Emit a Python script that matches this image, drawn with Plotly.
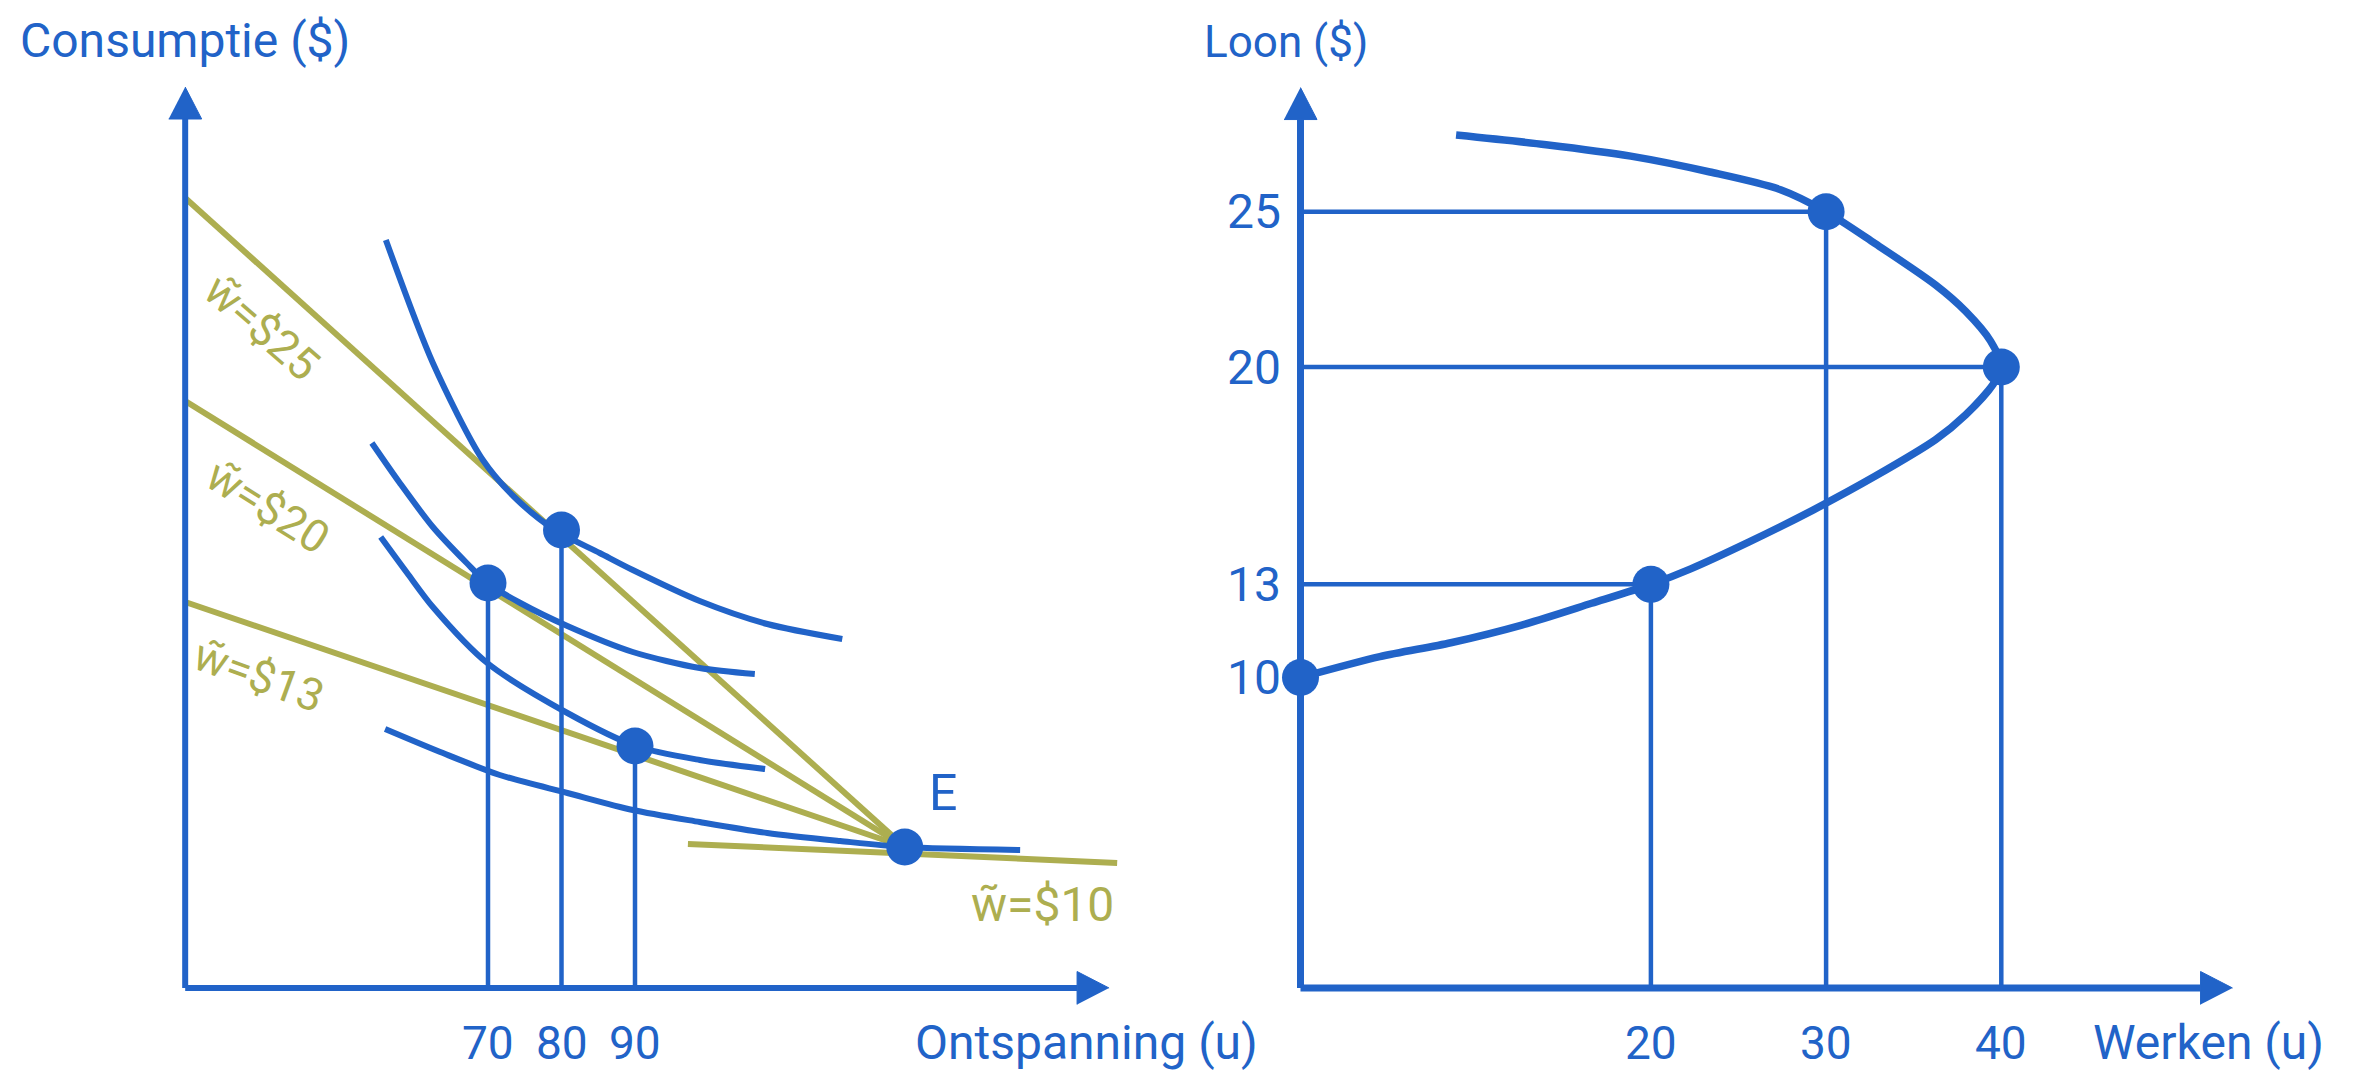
import plotly.graph_objects as go

BLUE = "#2163C8"
OLIVE = "#ADAE50"
FONT = "Roboto, Liberation Sans, sans-serif"

W, H = 2357, 1072

# ---------------- Left panel: leisure (u) vs consumption ($) ----------------
leisure_ticks = [70, 80, 90]
leisure_axis_start = 28.8
leisure_axis_tip = 154.5
cons_axis_tip = 450.5

E_leisure = 126.7
E_cons = 70.5

budget_labels = ["w\u0303=$25", "w\u0303=$20", "w\u0303=$13"]
budget_cons_at_axis = [395, 293.5, 193]
w10_leisure = [97.2, 155.6]
w10_cons = [72, 62.5]

ic1_leisure = [56.1, 62.5, 69.3, 74.0, 79.1, 85.2, 89.7, 98.8, 108.0, 118.2]
ic1_cons = [374, 312.5, 264, 244, 229, 217.5, 209, 193.5, 182, 174.5]
ic2_leisure = [54.2, 58.0, 62.5, 67.1, 69.9, 74.4, 80.8, 89.7, 98.8, 106.3]
ic2_cons = [272.5, 252.5, 230.5, 212.5, 202.5, 192.5, 181, 168, 160, 157]
ic3_leisure = [55.4, 59.0, 62.5, 69.9, 80.8, 90.1, 98.8, 107.7]
ic3_cons = [225.5, 207.5, 190.5, 162.5, 137.5, 121, 114, 109.5]
ic4_leisure = [56.0, 63.5, 71.6, 80.8, 89.7, 98.8, 108.0, 117.9, 126.7, 142.4]
ic4_cons = [129.5, 118, 106.5, 97.5, 89, 83, 77.5, 73.5, 70.5, 69]

tangent_leisure = [80, 70, 90]
tangent_cons = [229, 202.5, 121]

# ---------------- Right panel: hours worked (u) vs wage ($) ----------------
hours_ticks = [20, 30, 40]
wage_ticks = [25, 20, 13, 10]
hours_axis_tip = 53.2
wage_axis_tip = 29.0

supply_hours = [8.88, 14.02, 18.85, 23.37, 27.40, 30, 32.76, 36.25, 37.97, 39.38, 40,
                39.53, 37.97, 36.25, 32.76, 29.28, 25.58, 22.27, 20, 16.62, 12.63,
                8.58, 4.53, 0]
supply_wage = [27.47, 27.16, 26.79, 26.28, 25.71, 25, 23.99, 22.64, 21.79, 20.84, 20,
               19.44, 18.46, 17.66, 16.47, 15.40, 14.36, 13.50, 13, 12.39, 11.69,
               11.12, 10.67, 10]

point_hours = [0, 20, 30, 40]
point_wage = [10, 13, 25, 20]

# ---------------- geometry (pixel scale of each panel) ----------------
SPLIT = 1170
L_PXH, L_PX70 = 7.35, 488          # px per leisure hour, px of 70 h
L_PXC, L_PY0 = 2.0, 988            # px per $ of consumption, px of $0
R_PXH, R_PX0 = 17.52, 1300.5       # px per worked hour, px of 0 h
R_PXW, R_PY0 = 31.05, 988          # px per $ wage, px of $0

lx_range = [70 + (0 - L_PX70) / L_PXH, 70 + (SPLIT - L_PX70) / L_PXH]
ly_range = [(L_PY0 - H) / L_PXC, L_PY0 / L_PXC]
rx_range = [(SPLIT - R_PX0) / R_PXH, (W - R_PX0) / R_PXH]
ry_range = [(R_PY0 - H) / R_PXW, R_PY0 / R_PXW]

fig = go.Figure()


def line(x, y, color, width, ax="", shape="linear"):
    fig.add_trace(go.Scatter(x=x, y=y, mode="lines", xaxis="x" + ax, yaxis="y" + ax,
                             line=dict(color=color, width=width, shape=shape, smoothing=0.8),
                             hoverinfo="skip", showlegend=False, cliponaxis=False))


def tri(x, y, ax=""):
    fig.add_trace(go.Scatter(x=x, y=y, mode="lines", fill="toself", fillcolor=BLUE,
                             xaxis="x" + ax, yaxis="y" + ax, line=dict(color=BLUE, width=1),
                             hoverinfo="skip", showlegend=False))


def dots(x, y, ax=""):
    fig.add_trace(go.Scatter(x=x, y=y, mode="markers", xaxis="x" + ax, yaxis="y" + ax,
                             marker=dict(color=BLUE, size=37, line=dict(width=0)),
                             hoverinfo="skip", showlegend=False, cliponaxis=False))


ARW, ARL = 16.5, 32  # arrow half-width, length (px)

# ---- left panel ----
for c0 in budget_cons_at_axis:
    line([leisure_axis_start, E_leisure], [c0, E_cons], OLIVE, 6)
line(w10_leisure, w10_cons, OLIVE, 6)
for xs, ys in [(ic1_leisure, ic1_cons), (ic2_leisure, ic2_cons),
               (ic3_leisure, ic3_cons), (ic4_leisure, ic4_cons)]:
    line(xs, ys, BLUE, 6, shape="spline")
for lx, cy in zip(tangent_leisure, tangent_cons):
    line([lx, lx], [cy, 0], BLUE, 4.5)
line([leisure_axis_start, leisure_axis_start], [0, cons_axis_tip - ARL / L_PXC], BLUE, 6)
line([leisure_axis_start, leisure_axis_tip - ARL / L_PXH], [0, 0], BLUE, 6)
tri([leisure_axis_start - ARW / L_PXH, leisure_axis_start + ARW / L_PXH, leisure_axis_start],
    [cons_axis_tip - ARL / L_PXC, cons_axis_tip - ARL / L_PXC, cons_axis_tip])
tri([leisure_axis_tip - ARL / L_PXH, leisure_axis_tip - ARL / L_PXH, leisure_axis_tip],
    [-ARW / L_PXC, ARW / L_PXC, 0])
dots(tangent_leisure + [E_leisure], tangent_cons + [E_cons])

# ---- right panel ----
for h, w in zip(point_hours, point_wage):
    if h > 0:
        line([0, h], [w, w], BLUE, 4.5, "2")
        line([h, h], [w, 0], BLUE, 4.5, "2")
line(supply_hours, supply_wage, BLUE, 7.5, "2", shape="spline")
line([0, 0], [0, wage_axis_tip - ARL / R_PXW], BLUE, 7, "2")
line([0, hours_axis_tip - ARL / R_PXH], [0, 0], BLUE, 7, "2")
tri([-ARW / R_PXH, ARW / R_PXH, 0],
    [wage_axis_tip - ARL / R_PXW, wage_axis_tip - ARL / R_PXW, wage_axis_tip], "2")
tri([hours_axis_tip - ARL / R_PXH, hours_axis_tip - ARL / R_PXH, hours_axis_tip],
    [-ARW / R_PXW, ARW / R_PXW, 0], "2")
dots(point_hours, point_wage, "2")

# ---------------- text ----------------
ann = []


def text(t, x, y, ax="", size=48, color=BLUE, angle=0, xanchor="center", xshift=0, yshift=0):
    ann.append(dict(text=t, x=x, y=y, xref="x" + ax, yref="y" + ax, showarrow=False,
                    xanchor=xanchor, yanchor="middle", textangle=angle,
                    xshift=xshift, yshift=yshift,
                    font=dict(family=FONT, size=size, color=color)))


for v in leisure_ticks:
    text(str(v), v, 0, size=46, yshift=-55)
text("Consumptie ($)", leisure_axis_start, 474, size=48)
text("Ontspanning (u)", 151.4, 0, size=48, yshift=-54)
text("E", 131.9, 97.5, size=50)
label_pos = [(39.3, 330.5, 41), (40.0, 241, 32), (38.8, 156.5, 20)]
for t, (lx, ly, a) in zip(budget_labels, label_pos):
    text(t, lx, ly, size=45, color=OLIVE, angle=a)
text("w\u0303=$10", 145.4, 42, size=48, color=OLIVE)

for v in hours_ticks:
    text(str(v), v, 0, ax="2", size=46, yshift=-55)
for v in wage_ticks:
    text(str(v), 0, v, ax="2", xanchor="right", xshift=-18)
text("Loon ($)", -0.83, 30.47, ax="2", size=44)
text("Werken (u)", 51.8, 0, ax="2", size=48, yshift=-54)

fig.update_layout(
    width=W, height=H,
    margin=dict(l=0, r=0, t=0, b=0),
    paper_bgcolor="white", plot_bgcolor="white",
    showlegend=False,
    xaxis=dict(domain=[0, SPLIT / W], range=lx_range, visible=False),
    yaxis=dict(domain=[0, 1], range=ly_range, visible=False),
    xaxis2=dict(domain=[SPLIT / W, 1], range=rx_range, visible=False, anchor="y2"),
    yaxis2=dict(domain=[0, 1], range=ry_range, visible=False, anchor="x2"),
    annotations=ann,
)

fig.write_html("out.html", config={"displayModeBar": False},
               post_script="document.body.style.margin='0';document.body.style.overflow='hidden';")
